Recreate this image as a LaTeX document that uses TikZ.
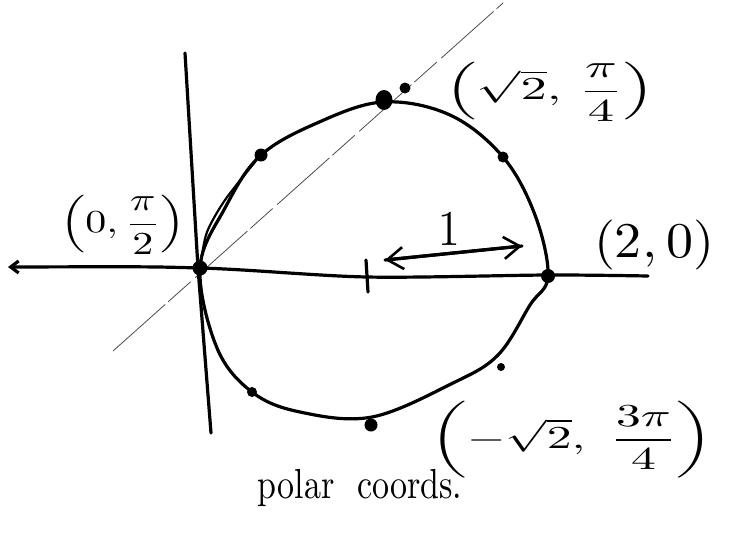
\documentclass[tikz,border=0pt]{standalone}
\usepackage{amsmath,amssymb}
\usepackage{tikz}
\usetikzlibrary{arrows.meta,calc,positioning}

\tikzset{
  pen/.style={line width=3.2pt,line cap=round,line join=round},
  guide/.style={line width=0.8pt,black!70,dash pattern=on 70pt off 4pt on 30pt off 6pt},
  barb/.style={-{Straight Barb[length=16pt,width=22pt,line width=2.6pt]}},
  lbl/.style={xscale=4.2,yscale=3.2,inner sep=0pt},
  lblbig/.style={xscale=5.4,yscale=5,inner sep=0pt},
  note/.style={xscale=3.4,yscale=4.2,inner sep=0pt},
}

\begin{document}
\begin{tikzpicture}[x=1pt,y=-1pt]
  \useasboundingbox (0,0) rectangle (735,539);
  % guide line at pi/4
  \coordinate (gA) at (113,351);
  \coordinate (gB) at (503,3);
  \draw[guide] (gA) -- (gB);
  % axes
  \draw[pen,{Straight Barb[length=8pt,width=12pt]}-] plot[smooth,tension=0.5]
    coordinates {(8,267) (200,268) (367,277) (548,275) (648,276)};
  \draw[pen] (185,53) -- (198,268) -- (211,433);
  % the curve
  \draw[pen] plot[smooth cycle,tension=0.6] coordinates {
    (200,268) (225,208) (260,156) (317,123) (383,102) (450,115) (503,157)
    (535,215) (548,276) (530,305) (498,355) (453,383) (372,417) (300,412)
    (252,392) (217,348)};
  \draw[pen,line width=2.2pt] plot[smooth,tension=0.5]
    coordinates {(201,262) (207,232) (225,200) (255,162)};
  % points on the curve
  \fill (200,268) circle[radius=7.5];
  \fill (548,276) circle[radius=7];
  \fill (384,100) ellipse[x radius=8.5,y radius=10];
  \fill (405,88) circle[radius=5.5];
  \fill (261,155) circle[radius=6.5];
  \fill (503,157) circle[radius=5.5];
  \fill (252,392) circle[radius=5];
  \fill (501,367) circle[radius=4];
  \fill (371,425) circle[radius=6.5];
  % unit mark
  \draw[pen] (366,260) -- (368,292);
  \coordinate (uL) at (385,260);
  \coordinate (uR) at (522,246);
  \draw[pen,barb] (uL) -- (uR);
  \draw[pen,barb] (uR) -- (uL);
  \node[lblbig,xscale=0.8] (one) at (449,229) {$1$};
  % labels
  \node[lbl] (pHalf) at (123,225) {$\left(0,\dfrac{\pi}{2}\right)$};
  \node[lbl,xscale=1.25] (pQuart) at (550,92) {$\left(\sqrt{2},\,\dfrac{\pi}{4}\right)$};
  \node[lblbig] (pTwo) at (654,245) {$(2,0)$};
  \node[lbl,xscale=1.18] (pThree) at (572,440) {$\left(-\sqrt{2},\ \dfrac{3\pi}{4}\right)$};
  \node[note] (caption) at (360,488) {polar\ \ coords.};
\end{tikzpicture}
\end{document}
